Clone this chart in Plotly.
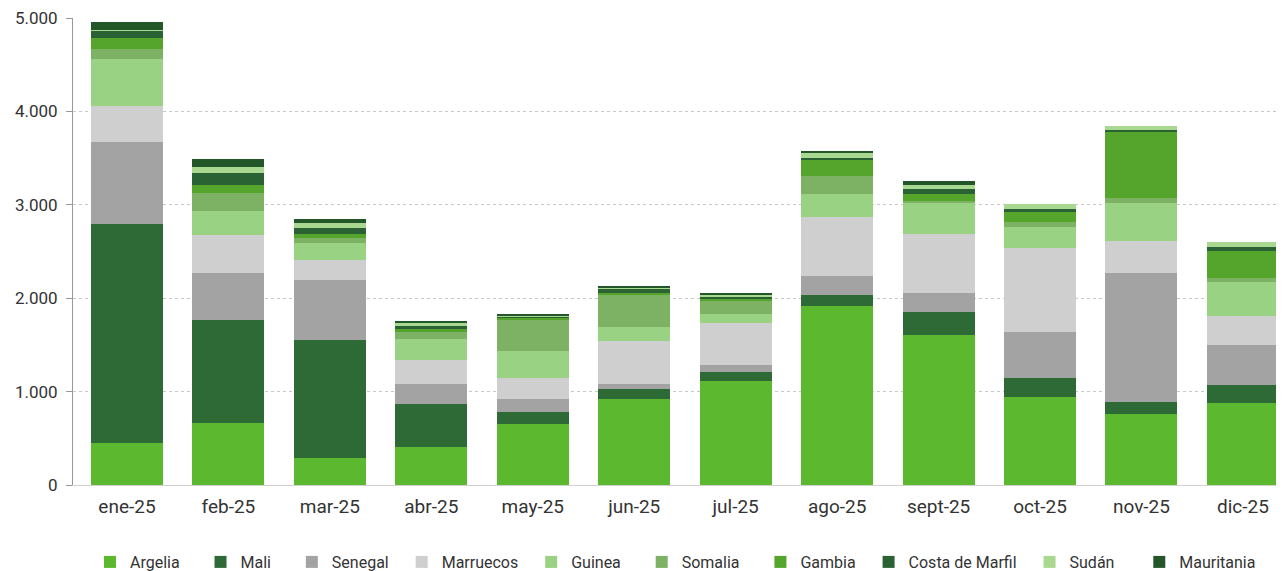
import plotly.graph_objects as go

months = ["ene-25", "feb-25", "mar-25", "abr-25", "may-25", "jun-25",
          "jul-25", "ago-25", "sept-25", "oct-25", "nov-25", "dic-25"]

argelia = [450, 660, 286, 404, 650, 921, 1117, 1916, 1606, 939, 757, 881]
mali = [2345, 1103, 1266, 463, 128, 107, 90, 118, 250, 203, 135, 186]
senegal = [880, 503, 643, 214, 143, 53, 78, 207, 196, 493, 1374, 432]
marruecos = [382, 411, 214, 257, 228, 464, 453, 632, 632, 906, 346, 314]
guinea = [510, 257, 179, 222, 286, 143, 90, 243, 339, 218, 404, 357]
somalia = [97, 196, 53, 82, 339, 357, 153, 196, 22, 54, 53, 43]
gambia = [128, 82, 46, 25, 10, 10, 10, 168, 71, 121, 707, 292]
costa_marfil = [70, 125, 61, 35, 25, 40, 25, 24, 50, 21, 25, 47]
sudan = [15, 64, 54, 29, 5, 25, 25, 61, 46, 50, 43, 53]
mauritania = [83, 89, 46, 22, 15, 5, 5, 5, 43, 0, 0, 0]

# name, values, colour, extra legend padding (non-breaking spaces)
series = [
    ("Argelia", argelia, "#5cb82e", 4),
    ("Mali", mali, "#2d6a35", 4),
    ("Senegal", senegal, "#a3a3a3", 2),
    ("Marruecos", marruecos, "#cfcfcf", 2),
    ("Guinea", guinea, "#9ad283", 4),
    ("Somalia", somalia, "#7db265", 4),
    ("Gambia", gambia, "#55a42c", 2),
    ("Costa de Marfil", costa_marfil, "#2b6233", 2),
    ("Sudán", sudan, "#a9d891", 5),
    ("Mauritania", mauritania, "#23572a", 0),
]

fig = go.Figure()
for name, vals, color, pad in series:
    fig.add_trace(go.Bar(x=months, y=vals, name=name + "\u00a0" * pad,
                         marker=dict(color=color, line=dict(width=0))))

# page body has an 8px margin, so everything is shifted by that much
fig.update_layout(
    barmode="stack",
    bargap=0.29,
    width=1276, height=571,
    margin=dict(l=65, r=0, t=10, b=94),
    plot_bgcolor="white", paper_bgcolor="white",
    separators=",.",
    font=dict(family="Roboto", color="#333333"),
    legend=dict(orientation="h", x=0.4975, xanchor="center", y=-0.165, yanchor="middle",
                font=dict(size=16, color="#333333"), itemwidth=30, traceorder="normal"),
)
fig.update_xaxes(
    range=[-0.532, 11.405],
    showgrid=False, showline=True, linecolor="#d0d0d0",
    tickfont=dict(size=19, color="#333333"), ticks="", ticklabelstandoff=4,
)
fig.update_yaxes(
    range=[0, 5001], dtick=1000, tickformat=",.0f",
    showgrid=True, gridcolor="#c8c8c8", griddash="dot", gridwidth=1,
    showline=True, linecolor="#999999", ticks="outside", ticklen=6, tickcolor="#999999",
    ticklabelstandoff=5, automargin=False,
    tickfont=dict(size=17, color="#333333"), zeroline=False,
)

fig.write_html("out.html")
